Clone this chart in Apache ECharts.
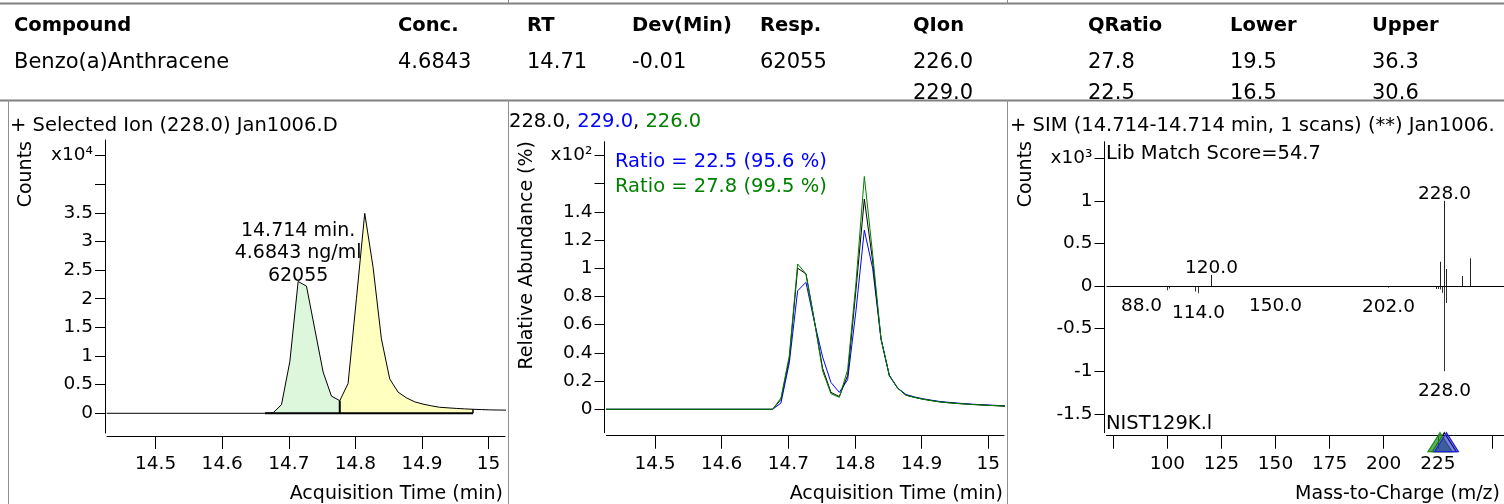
<!DOCTYPE html>
<html><head><meta charset="utf-8">
<script src="https://cdn.jsdelivr.net/npm/echarts@6/dist/echarts.min.js"></script>
<style>html,body{margin:0;padding:0;background:#fff;}#c{width:1504px;height:504px;}</style>
</head><body><div id="c"></div>
<script>
// ---------------- data ----------------
const tableHeaders = ['Compound','Conc.','RT','Dev(Min)','Resp.','QIon','QRatio','Lower','Upper'];
const tableRow1 = ['Benzo(a)Anthracene','4.6843','14.71','-0.01','62055','226.0','27.8','19.5','36.3'];
const tableRow2 = ['','','','','','229.0','22.5','16.5','30.6'];

const scanTimes = [14.4265,14.664,14.6765,14.689,14.7015,14.714,14.7265,14.739,14.7515,14.764,14.7765,14.789,14.8015,14.814,14.8265,14.839,14.8515,14.864,14.8765,14.889,14.9015,14.914,14.9265,14.939,14.9515,14.964,14.9765,14.989,15.0015,15.014,15.0265];
// Selected ion 228 counts (x10^4)
const counts228 = [0,0,0.01,0.15,0.90,2.30,2.22,1.47,0.72,0.30,0.22,0.52,2.00,3.49,2.55,1.30,0.60,0.37,0.27,0.20,0.16,0.13,0.105,0.095,0.085,0.077,0.070,0.065,0.060,0.057,0.055];
// relative abundance (x10^2 %)
const rel228 = [0,0,0,0.07,0.36,1.00,0.96,0.63,0.29,0.12,0.09,0.24,0.85,1.49,1.05,0.50,0.24,0.15,0.10,0.085,0.072,0.062,0.053,0.047,0.042,0.038,0.034,0.031,0.028,0.025,0.022];
const rel229 = [0,0,0,0.045,0.33,0.84,0.90,0.62,0.37,0.19,0.12,0.21,0.70,1.27,1.00,0.50,0.24,0.15,0.105,0.088,0.075,0.065,0.056,0.050,0.045,0.040,0.036,0.033,0.030,0.027,0.024];
const rel226 = [0,0,0,0.08,0.38,1.03,0.96,0.63,0.27,0.11,0.085,0.28,0.90,1.65,1.10,0.50,0.24,0.15,0.10,0.085,0.072,0.062,0.053,0.047,0.042,0.038,0.034,0.031,0.028,0.025,0.022];
const peakStartTime = 14.664, peakSplitTime = 14.7765, peakEndTime = 14.9765, peakRT = 14.714;
const peakAnnotation = ['14.714 min.','4.6843 ng/ml','62055'];

// spectrum (x10^3 counts)
const specMz = [120,226,228,229,236,240];
const specAbund = [0.13,0.285,1.00,0.20,0.117,0.325];
const libMz = [88,100,101,113,114,150,200,202,224,225,226,227,228,229];
const libAbund = [-0.01,-0.05,-0.03,-0.065,-0.085,-0.01,-0.01,-0.02,-0.035,-0.035,-0.04,-0.08,-1.0,-0.2];
const specLabeled = [120,228];
const libLabeled = [88,114,150,202,228];
const qualIons = [228,226,229];

const chromXTicks = [14.5,14.6,14.7,14.8,14.9,15];
const chromXLabels = ['14.5','14.6','14.7','14.8','14.9','15'];
const countsYTicks = [0,0.5,1,1.5,2,2.5,3,3.5,4,4.5];
const countsYLabels = ['0','0.5','1','1.5','2','2.5','3','3.5','','x10\u2074'];
const relYTicks = [0,0.2,0.4,0.6,0.8,1,1.2,1.4,1.6,1.8];
const relYLabels = ['0','0.2','0.4','0.6','0.8','1','1.2','1.4','','x10\u00b2'];
const specXTicks = [75,100,125,150,175,200,225,250];
const specXLabels = ['','100','125','150','175','200','225',''];
const specYTicks = [-1.5,-1,-0.5,0,0.5,1,1.5];
const specYLabels = ['-1.5','-1','-0.5','0','0.5','1','x10\u00b3'];

const panelTitles = ['+ Selected Ion (228.0) Jan1006.D','+ SIM (14.714-14.714 min, 1 scans) (**) Jan1006.'];
const ionList = ['228.0','229.0','226.0'];
const ratioTexts = ['Ratio = 22.5 (95.6 %)','Ratio = 27.8 (99.5 %)'];
const libMatchText = 'Lib Match Score=54.7';
const libNameText = 'NIST129K.l';
const axisNames = {time:'Acquisition Time (min)', counts:'Counts', rel:'Relative Abundance (%)', mz:'Mass-to-Charge (m/z)'};

// ---------------- layout/style ----------------
const FONT = 'DejaVu Sans';
const BLUE = '#0000ff', GREEN = '#008000';
const colX = [14,398,527,632,760,913,1088,1230,1372];

function xAx(grid,min,max,ticks,labels){
  return {type:'value',gridIndex:grid,min,max,offset:3,
    axisLine:{show:true,onZero:false,lineStyle:{color:'#000',width:1}},
    axisTick:{show:true,length:13,customValues:ticks,lineStyle:{color:'#000',width:1}},
    axisLabel:{show:true,customValues:ticks,formatter:v=>{const i=ticks.indexOf(v);return i<0?'':labels[i];},
      margin:19,color:'#000',fontFamily:FONT,fontSize:18.5},
    splitLine:{show:false}};
}
function yAx(grid,min,max,ticks,labels){
  return {type:'value',gridIndex:grid,min,max,offset:2,
    axisLine:{show:true,onZero:false,lineStyle:{color:'#000',width:1}},
    axisTick:{show:true,length:10,customValues:ticks,lineStyle:{color:'#000',width:1}},
    axisLabel:{show:true,customValues:ticks,formatter:v=>{const i=ticks.indexOf(v);return i<0?'':labels[i];},
      margin:12,color:'#000',fontFamily:FONT,fontSize:18.5},
    splitLine:{show:false}};
}
function txt(text,x,y,o){
  o=o||{};
  return {type:'text',x:x,y:y,rotation:o.rot||0,z:10,silent:true,
    style:{text:text,fill:o.color||'#000',font:(o.bold?'bold ':'')+(o.size||19)+'px "'+FONT+'"',
      align:o.align||'left',verticalAlign:o.va||'middle',rich:o.rich}};
}
function ln(x1,y1,x2,y2,c,w){return {type:'line',silent:true,z:9,shape:{x1,y1,x2,y2},style:{stroke:c||'#8a8a8a',lineWidth:w||1}};}

const graphics = [];
graphics.push(ln(0,3.5,1504,3.5,'#808080',2));
graphics.push(ln(508.5,0,508.5,3.5)); graphics.push(ln(1007.5,0,1007.5,3.5));
graphics.push(ln(0,100.5,1504,100.5,'#808080',2));
[8.5,508.5,1007.5].forEach(x=>graphics.push(ln(x,100,x,504,'#909090',1)));
// table
tableHeaders.forEach((h,i)=>graphics.push(txt(h,colX[i],25.5,{bold:true,size:19.5})));
tableRow1.forEach((h,i)=>{ if(h) graphics.push(txt(h,colX[i],62.5,{size:21})); });
tableRow2.forEach((h,i)=>{ if(h) graphics.push(txt(h,colX[i],94,{size:21})); });
// panel titles
graphics.push(txt(panelTitles[0],10,126,{size:19.5}));
graphics.push(txt(panelTitles[1],1010,126,{size:19.5}));
graphics.push(txt('{k|'+ionList[0]+'}{k|, }{b|'+ionList[1]+'}{k|, }{g|'+ionList[2]+'}',509,122,{size:19.5,
  rich:{k:{fill:'#000',font:'19.5px "'+FONT+'"'},b:{fill:BLUE,font:'19.5px "'+FONT+'"'},g:{fill:GREEN,font:'19.5px "'+FONT+'"'}}}));
graphics.push(txt(ratioTexts[0],615,162,{size:19.5,color:BLUE}));
graphics.push(txt(ratioTexts[1],615,187,{size:19.5,color:GREEN}));
graphics.push(txt(libMatchText,1106,154,{size:19.5}));
graphics.push(txt(libNameText,1106,424,{size:19.5}));
// axis names
graphics.push(txt(axisNames.counts,26,141,{size:19,rot:Math.PI/2,align:'right'}));
graphics.push(txt(axisNames.rel,527,141,{size:19,rot:Math.PI/2,align:'right'}));
graphics.push(txt(axisNames.counts,1026,141,{size:19,rot:Math.PI/2,align:'right'}));
graphics.push(txt(axisNames.time,503,494,{size:19,align:'right'}));
graphics.push(txt(axisNames.time,1003,494,{size:19,align:'right'}));
graphics.push(txt(axisNames.mz,1500,494,{size:19,align:'right'}));

const idx = t => scanTimes.indexOf(t);
const pairs = (arr,a,b) => scanTimes.slice(a,b+1).map((t,i)=>[t,arr[a+i]]);
const iS = idx(peakStartTime), iM = idx(peakSplitTime), iE = idx(peakEndTime), iA = idx(peakRT);

function stickSeries(mz,ab,labeled,color){
  return {type:'custom',xAxisIndex:2,yAxisIndex:2,clip:true,silent:true,z:4,
    data:mz.map((m,i)=>[m,ab[i]]),
    renderItem:(params,api)=>{
      const m=api.value(0), v=api.value(1);
      const p0=api.coord([m,0]), p1=api.coord([m,v]);
      const x=Math.round(p0[0])+0.5;
      const ch=[{type:'line',shape:{x1:x,y1:p0[1],x2:x,y2:p1[1]},style:{stroke:color,lineWidth:1}}];
      if(labeled.indexOf(m)>=0){
        ch.push({type:'text',style:{text:m.toFixed(1),x:x,y:v>=0?p1[1]+3:p1[1]+10,align:'center',
          verticalAlign:v>=0?'bottom':'top',fill:'#000',font:'18.5px "'+FONT+'"'}});
      }
      return {type:'group',children:ch};
    }};
}

const option = {
  animation:false,
  backgroundColor:'#fff',
  grid:[
    {left:107,top:140,width:398,height:293,containLabel:false,outerBoundsMode:'none'},
    {left:606.5,top:141.7,width:397.5,height:291,containLabel:false,outerBoundsMode:'none'},
    {left:1106.5,top:141.7,width:397.5,height:291,containLabel:false,outerBoundsMode:'none'}
  ],
  xAxis:[
    xAx(0,14.427,15.0246,chromXTicks,chromXLabels),
    xAx(1,14.4273,15.0235,chromXTicks,chromXLabels),
    xAx(2,71.9,255.6,specXTicks,specXLabels)
  ],
  yAxis:[
    yAx(0,-0.344,4.770,countsYTicks,countsYLabels),
    yAx(1,-0.1658,1.8965,relYTicks,relYLabels),
    yAx(2,-1.7218,1.6937,specYTicks,specYLabels)
  ],
  graphic:{elements:graphics},
  series:[
    {type:'line',xAxisIndex:0,yAxisIndex:0,data:pairs(counts228,iS,iM),symbol:'none',silent:true,
      lineStyle:{width:0},areaStyle:{color:'#ddf7dd',opacity:1},z:1},
    {type:'line',xAxisIndex:0,yAxisIndex:0,data:pairs(counts228,iM,iE),symbol:'none',silent:true,
      lineStyle:{width:0},areaStyle:{color:'#ffffc0',opacity:1},z:1},
    {type:'line',xAxisIndex:0,yAxisIndex:0,data:pairs(counts228,0,scanTimes.length-1),symbol:'none',silent:true,
      lineStyle:{color:'#000',width:1},z:3},
    {type:'line',xAxisIndex:0,yAxisIndex:0,data:[[peakStartTime,0],[peakEndTime,0]],symbol:'none',silent:true,
      lineStyle:{color:'#000',width:2},z:3},
    {type:'line',xAxisIndex:0,yAxisIndex:0,data:[[peakSplitTime,0],[peakSplitTime,counts228[iM]]],symbol:'none',silent:true,
      lineStyle:{color:'#000',width:2},z:3},
    {type:'line',xAxisIndex:0,yAxisIndex:0,data:[[peakEndTime,0],[peakEndTime,counts228[iE]]],symbol:'none',silent:true,
      lineStyle:{color:'#000',width:1.5},z:3},
    {type:'scatter',xAxisIndex:0,yAxisIndex:0,data:[[peakRT,counts228[iA]]],symbolSize:1,silent:true,
      itemStyle:{color:'rgba(0,0,0,0)'},z:5,
      label:{show:true,position:'top',distance:-6,formatter:peakAnnotation.join('\n'),
        fontFamily:FONT,fontSize:19,lineHeight:22.5,color:'#000',opacity:1,textBorderWidth:0,align:'center'}},
    {type:'line',xAxisIndex:1,yAxisIndex:1,data:pairs(rel229,0,scanTimes.length-1),symbol:'none',silent:true,
      lineStyle:{color:BLUE,width:1},z:2},
    {type:'line',xAxisIndex:1,yAxisIndex:1,data:pairs(rel228,0,scanTimes.length-1),symbol:'none',silent:true,
      lineStyle:{color:'#000',width:1},z:3},
    {type:'line',xAxisIndex:1,yAxisIndex:1,data:pairs(rel226,0,scanTimes.length-1),symbol:'none',silent:true,
      lineStyle:{color:GREEN,width:1},z:4},
    Object.assign(stickSeries(specMz,specAbund,specLabeled,'#222'),{
      markLine:{silent:true,symbol:'none',label:{show:false},lineStyle:{color:'#000',width:1,type:'solid'},data:[{yAxis:0}]}}),
    stickSeries(libMz,libAbund,libLabeled,'#333'),
    {type:'custom',xAxisIndex:2,yAxisIndex:2,clip:false,silent:true,z:6,
      data:qualIons.map(m=>[m]),
      renderItem:(params,api)=>{
        const m=api.value(0);
        const p=api.coord([m,-1.7218]);
        const x=p[0], y=p[1];
        const styles=[{fill:'rgba(0,0,0,0)',stroke:'#000'},{fill:'rgba(40,150,40,0.75)',stroke:'#1e8a1e'},{fill:'rgba(40,40,200,0.6)',stroke:'#2020e0'}];
        return {type:'polygon',shape:{points:[[x,y],[x-12,y+19],[x+12,y+19]]},style:Object.assign({lineWidth:1.2},styles[params.dataIndex])};
      }}
  ]
};
const chart = echarts.init(document.getElementById('c'),null,{renderer:'canvas'});
chart.setOption(option);
</script>
</body></html>
